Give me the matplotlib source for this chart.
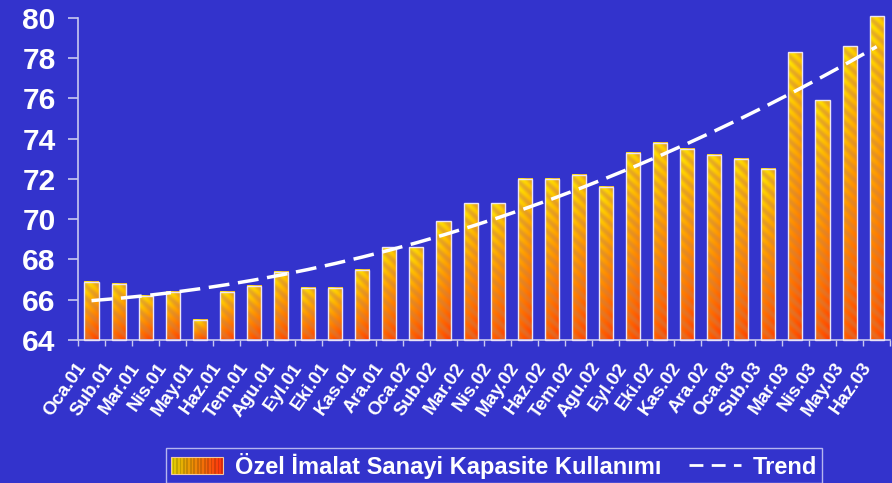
import numpy as np
import matplotlib
matplotlib.use('Agg')
import matplotlib.pyplot as plt
import matplotlib.transforms as mtransforms
from matplotlib.patches import Rectangle
from matplotlib.lines import Line2D
from matplotlib.legend_handler import HandlerBase

# data
labels = ['Oca.01', 'Sub.01', 'Mar.01', 'Nis.01', 'May.01', 'Haz.01', 'Tem.01', 'Agu.01',
          'Eyl.01', 'Eki.01', 'Kas.01', 'Ara.01', 'Oca.02', 'Sub.02', 'Mar.02', 'Nis.02',
          'May.02', 'Haz.02', 'Tem.02', 'Agu.02', 'Eyl.02', 'Eki.02', 'Kas.02', 'Ara.02',
          'Oca.03', 'Sub.03', 'Mar.03', 'Nis.03', 'May.03', 'Haz.03']
values = [66.9, 66.8, 66.2, 66.4, 65.0, 66.4, 66.7, 67.4,
          66.6, 66.6, 67.5, 68.6, 68.6, 69.9, 70.8, 70.8,
          72.0, 72.0, 72.2, 71.6, 73.3, 73.8, 73.5, 73.2,
          73.0, 72.5, 78.3, 75.9, 78.6, 80.1]
series_name = 'Özel İmalat Sanayi Kapasite Kullanımı'
trend_name = 'Trend'
y_ticks = [64, 66, 68, 70, 72, 74, 76, 78, 80]

bg = '#3333cc'
axis_col = '#c8c8f0'

plt.rcParams['font.family'] = ['Liberation Sans', 'DejaVu Sans']
plt.rcParams['font.weight'] = 'bold'


def texture(h_px, w_px):
    # yellow -> red gradient with diagonal stripes, like the original fill
    r = np.arange(h_px)[:, None]
    c = np.arange(w_px)[None, :]
    t = (r / max(h_px - 1, 1))[..., None] * np.ones((1, w_px, 1))
    t = t * 0.8 + (c / max(w_px - 1, 1))[..., None] * 0.2
    stripe = (0.5 + 0.5 * np.sin(2 * np.pi * (r - c) / 12.0))[..., None]
    top = np.array([1.0, 0.92, 0.0])
    bottom = np.array([1.0, 0.25, 0.0])
    base = top * (1 - t) + bottom * t
    dark = np.array([0.80, 0.50, 0.28])
    img = base * (1 - 0.5 * stripe) + dark * 0.5 * stripe
    return np.clip(img, 0, 1)


class GradientHandler(HandlerBase):
    def create_artists(self, legend, orig_handle, xdescent, ydescent,
                       width, height, fontsize, trans):
        n = 30
        arts = []
        for k in range(n):
            f = k / (n - 1)
            col = np.array([0.88, 0.82, 0.0]) * (1 - f) + np.array([1.0, 0.2, 0.05]) * f
            if k % 2:
                col = col * 0.85
            arts.append(Rectangle((-xdescent + k * width / n, -ydescent), width / n, height,
                                  facecolor=col, edgecolor='none', transform=trans))
        arts.append(Rectangle((-xdescent, -ydescent), width, height, facecolor='none',
                              edgecolor='#f0c8a0', lw=0.8, transform=trans))
        return arts


fig = plt.figure(figsize=(8.92, 4.83), dpi=100, facecolor=bg)
ax = fig.add_axes([0.0874, 0.296, 0.9106, 0.667])
ax.set_facecolor(bg)

x = np.arange(len(values))
vals = np.array(values)
bars = ax.bar(x, vals - 64, bottom=64, width=0.52, color='none',
              edgecolor='#ece4f4', lw=1.0, zorder=3, clip_on=False)

px_per_unit = 0.667 * 483 / 16
for b in bars:
    x0, y0 = b.get_x(), b.get_y()
    w, h = b.get_width(), b.get_height()
    img = texture(max(int(h * px_per_unit), 2), 14)
    im = ax.imshow(img, extent=(x0, x0 + w, y0, y0 + h), aspect='auto',
                   origin='upper', zorder=2, interpolation='bilinear')
    im.set_clip_path(b)
    im.set_clip_box(None)

# polynomial trend line
coef = np.polyfit(x, vals, 2)
trend = np.polyval(coef, x)
ax.plot(x, trend, color='white', lw=2.5, dashes=(6, 2.5), zorder=4, clip_on=False)

ax.set_xlim(-0.5, len(values) - 0.5)
ax.set_ylim(64, 80)

for s in ['top', 'right']:
    ax.spines[s].set_visible(False)
for s in ['left', 'bottom']:
    ax.spines[s].set_color(axis_col)
    ax.spines[s].set_linewidth(1.2)

ax.set_yticks(y_ticks)
ax.tick_params(axis='y', direction='out', length=7, width=1.2, color=axis_col,
               labelcolor='white', labelsize=21.5, pad=9)

ax.set_xticks(np.arange(-0.5, len(values), 1))
ax.set_xticklabels([])
ax.tick_params(axis='x', which='major', direction='out', length=4, width=1, color=axis_col)
ax.set_xticks(x, minor=True)
ax.set_xticklabels(labels, minor=True, rotation=55, ha='right', va='bottom',
                   rotation_mode='anchor', fontsize=13.5, color='white')
ax.tick_params(axis='x', which='minor', direction='in', length=4, width=1, color=axis_col, pad=21)
shift = mtransforms.ScaledTranslation(-1.5 / 72, 0, fig.dpi_scale_trans)
for lab in ax.get_xticklabels(minor=True):
    lab.set_transform(lab.get_transform() + shift)

handles = [Rectangle((0, 0), 1, 1), Line2D([], [], color='white', lw=2, dashes=(5, 3))]
leg = fig.legend(handles, [series_name, trend_name], loc='upper center',
                 bbox_to_anchor=(0.554, 1 - 448 / 483), borderaxespad=0, ncol=2, frameon=True,
                 facecolor=bg, edgecolor='#d8d8f8', fancybox=False, fontsize=17,
                 labelcolor='white', handlelength=2.2, handleheight=0.7,
                 columnspacing=1.2, handletextpad=0.5, borderpad=0.2,
                 handler_map={Rectangle: GradientHandler()})
leg.get_frame().set_linewidth(1.0)

fig.savefig('out.png', dpi=100, facecolor=bg)
plt.close('all')
